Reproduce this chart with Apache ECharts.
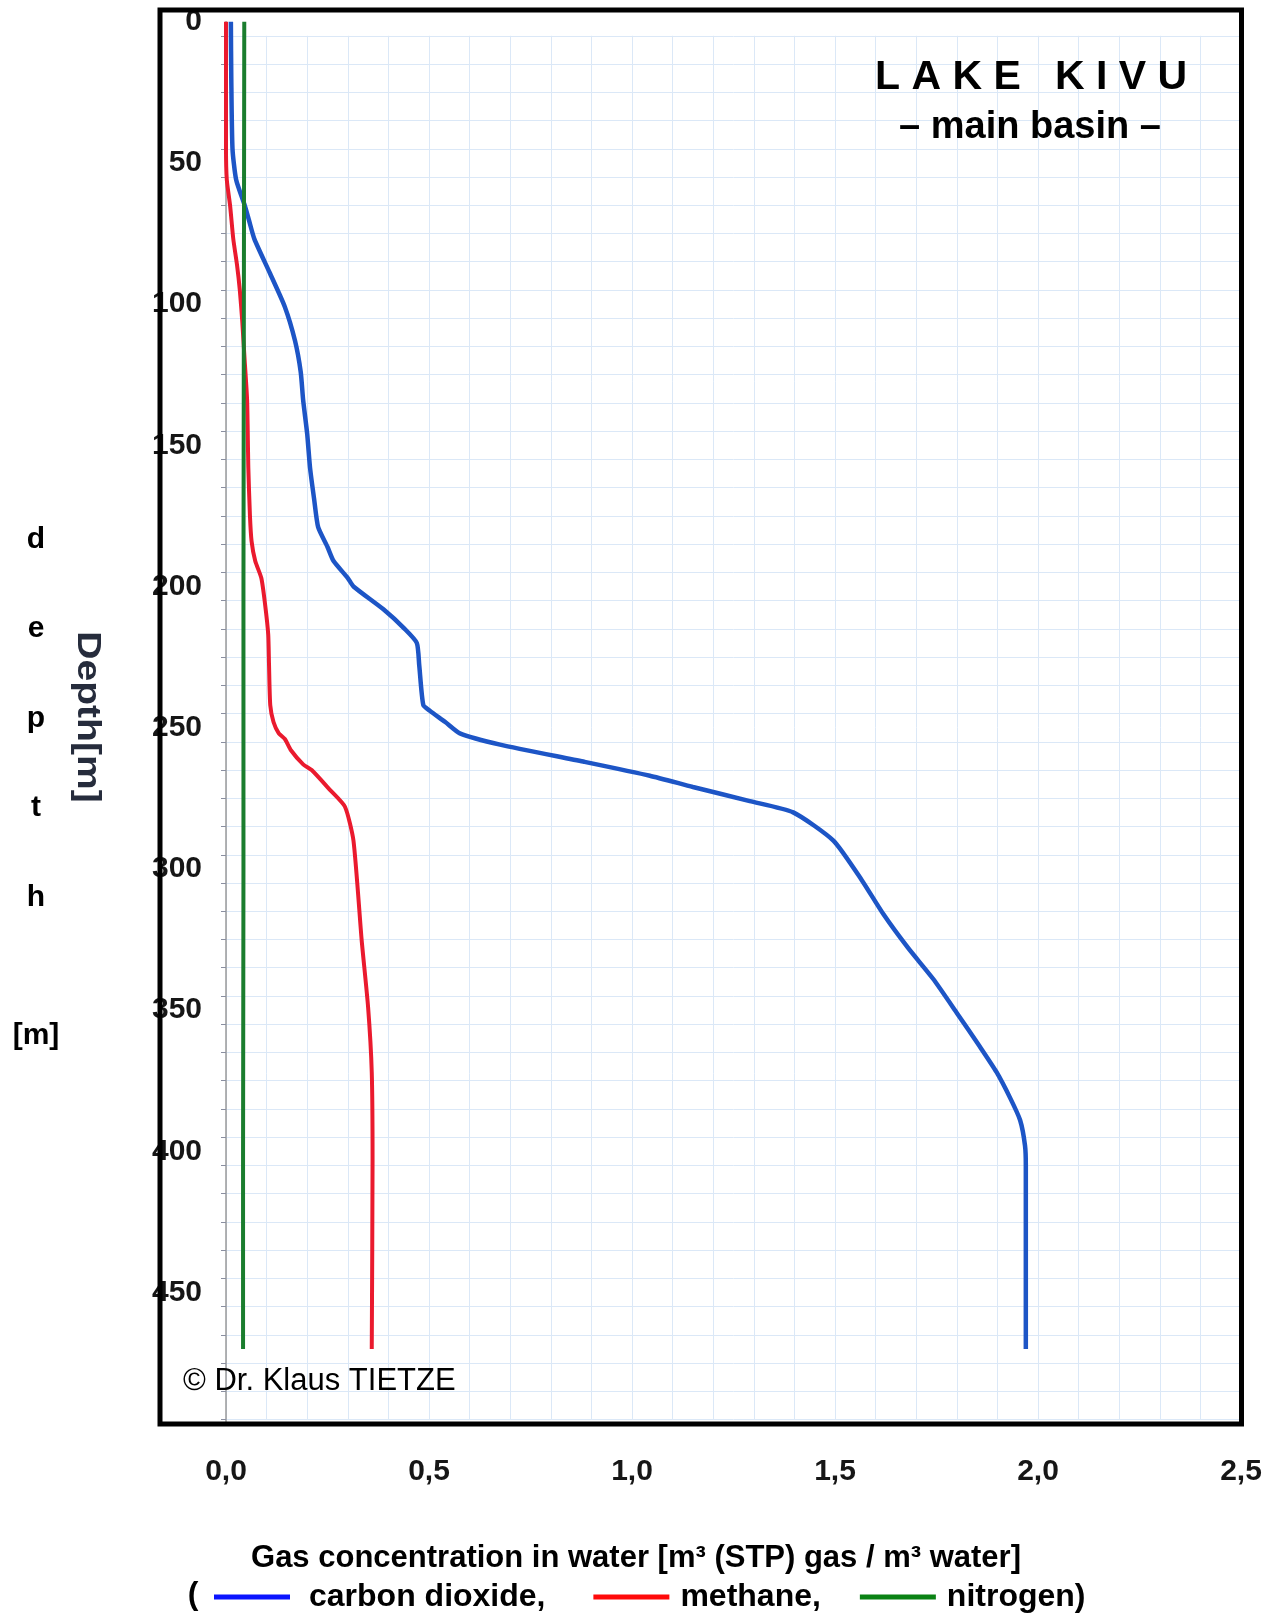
<!DOCTYPE html>
<html><head><meta charset="utf-8">
<script src="https://cdn.jsdelivr.net/npm/echarts@6/dist/echarts.min.js"></script>
<style>html,body{margin:0;padding:0;background:#fff}#c{width:1276px;height:1614px}</style>
</head><body><div id="c"></div>
<script>
// ---- data (depth in m, concentration in m3 STP gas / m3 water) ----
const depthTickValues = [0, 50, 100, 150, 200, 250, 300, 350, 400, 450];
const concTickLabels = ['0,0', '0,5', '1,0', '1,5', '2,0', '2,5'];

const co2Depth = [0, 20, 45, 56, 65, 70, 77, 89, 101, 113, 124, 134, 146, 158, 169, 179, 186, 191, 197, 200, 208, 215, 220, 228, 242, 244, 248, 252, 256, 262, 267, 271, 276, 280, 290, 304, 316, 328, 339, 351, 363, 372, 381, 389, 398, 405, 470];
const co2Conc  = [0.012, 0.013, 0.016, 0.025, 0.046, 0.056, 0.070, 0.108, 0.145, 0.170, 0.184, 0.190, 0.200, 0.207, 0.217, 0.227, 0.250, 0.265, 0.300, 0.314, 0.387, 0.440, 0.470, 0.476, 0.486, 0.502, 0.540, 0.576, 0.675, 0.880, 1.044, 1.150, 1.290, 1.397, 1.496, 1.566, 1.619, 1.680, 1.742, 1.800, 1.857, 1.898, 1.931, 1.956, 1.968, 1.970, 1.970];

const ch4Depth = [0, 20, 45, 56, 65, 77, 86, 95, 106, 120, 134, 158, 175, 184, 191, 197, 206, 217, 228, 242, 248, 252, 254, 258, 263, 265, 272, 278, 290, 325, 349, 372, 403, 470];
const ch4Conc  = [0.000, 0.000, 0.000, 0.002, 0.010, 0.018, 0.027, 0.034, 0.040, 0.046, 0.052, 0.055, 0.059, 0.063, 0.072, 0.087, 0.096, 0.104, 0.106, 0.109, 0.117, 0.130, 0.145, 0.160, 0.190, 0.211, 0.256, 0.293, 0.314, 0.334, 0.350, 0.359, 0.361, 0.359];

const n2Depth = [0, 100, 200, 300, 400, 470];
const n2Conc  = [0.045, 0.044, 0.043, 0.043, 0.042, 0.042];

const seriesNames = ['carbon dioxide', 'methane', 'nitrogen'];
const legendLabels = ['carbon dioxide, ', 'methane,', 'nitrogen)'];

const toPairs = (d, c) => d.map((v, i) => [c[i], v]);

const chart = echarts.init(document.getElementById('c'), null, {renderer: 'canvas'});
const FONT = 'Liberation Sans, Arial, sans-serif';
const gridColor = '#dbe8f7';

chart.setOption({
  backgroundColor: '#ffffff',
  animation: false,
  textStyle: {fontFamily: FONT},
  grid: [
    {left: 226, top: 21.7, width: 1015, height: 1403.5},
    {left: 226, top: 35.8, width: 1015, height: 1383.8}
  ],
  xAxis: [
    {gridIndex: 0, type: 'value', min: 0, max: 2.5, interval: 0.5,
     axisLine: {show: false}, axisTick: {show: false}, splitLine: {show: false},
     axisLabel: {margin: 32, fontSize: 30, fontWeight: 'bold', color: '#161616', fontFamily: FONT,
       formatter: v => { const i = Math.round(v / 0.5); return concTickLabels[i] || ''; }}},
    {gridIndex: 1, type: 'value', min: 0, max: 2.5, interval: 0.1,
     axisLine: {show: false}, axisTick: {show: false}, axisLabel: {show: false},
     splitLine: {show: true, lineStyle: {color: gridColor, width: 1}}}
  ],
  yAxis: [
    {gridIndex: 0, type: 'value', inverse: true, min: 0, max: 497, interval: 50,
     axisLine: {show: true, lineStyle: {color: '#9a9a9a', width: 1.5}},
     axisTick: {show: false}, splitLine: {show: false},
     axisLabel: {margin: 24, fontSize: 30, fontWeight: 'bold', color: '#161616', fontFamily: FONT,
       showMaxLabel: false,
       formatter: v => depthTickValues.indexOf(v) >= 0 ? String(v) : ''}},
    {gridIndex: 1, type: 'value', inverse: true, min: 0, max: 490, interval: 10,
     axisLine: {show: false}, axisLabel: {show: false},
     axisTick: {show: true, length: 5, lineStyle: {color: '#8a8fa0', width: 1}},
     splitLine: {show: true, lineStyle: {color: gridColor, width: 1}}}
  ],
  legend: {
    left: 209, top: 1576, icon: 'rect', itemWidth: 76, itemHeight: 5, itemGap: 39,
    textStyle: {fontSize: 32, fontWeight: 'bold', color: '#000', fontFamily: FONT},
    formatter: name => legendLabels[seriesNames.indexOf(name)],
    data: [
      {name: seriesNames[0], itemStyle: {color: '#0a14ff'}, textStyle: {padding: [0, 0, 0, 14]}},
      {name: seriesNames[1], itemStyle: {color: '#ff0a0a'}, textStyle: {padding: [0, 0, 0, 6]}},
      {name: seriesNames[2], itemStyle: {color: '#0a8214'}, textStyle: {padding: [0, 0, 0, 6]}}
    ]
  },
  series: [
    {name: seriesNames[1], type: 'line', xAxisIndex: 0, yAxisIndex: 0, data: toPairs(ch4Depth, ch4Conc),
     showSymbol: false, smooth: 0.2, z: 3,
     lineStyle: {color: '#ea1a2e', width: 4}, itemStyle: {color: '#ea1a2e'}},
    {name: seriesNames[0], type: 'line', xAxisIndex: 0, yAxisIndex: 0, data: toPairs(co2Depth, co2Conc),
     showSymbol: false, smooth: 0.2, z: 4,
     lineStyle: {color: '#1d55c6', width: 4.5}, itemStyle: {color: '#1d55c6'}},
    {name: seriesNames[2], type: 'line', xAxisIndex: 0, yAxisIndex: 0, data: toPairs(n2Depth, n2Conc),
     showSymbol: false, z: 5,
     lineStyle: {color: '#1a7d2e', width: 4}, itemStyle: {color: '#1a7d2e'}}
  ],
  graphic: [
    {type: 'rect', shape: {x: 160, y: 10, width: 1081.5, height: 1414}, z: 1,
     style: {fill: null, stroke: '#000', lineWidth: 5}},
    {type: 'text', x: 1031, y: 78, z: 10, style: {text: 'L A K E   K I V U', font: 'bold 41px ' + FONT, fill: '#000', textAlign: 'center', textVerticalAlign: 'middle'}},
    {type: 'text', x: 1030, y: 128, z: 10, style: {text: '– main basin –', font: 'bold 38px ' + FONT, fill: '#000', textAlign: 'center', textVerticalAlign: 'middle'}},
    {type: 'text', x: 183, y: 1381, z: 10, style: {text: '© Dr. Klaus TIETZE', font: '31px ' + FONT, fill: '#000', textAlign: 'left', textVerticalAlign: 'middle'}},
    {type: 'text', x: 636, y: 1558, z: 10, style: {text: 'Gas concentration in water [m³ (STP) gas / m³ water]', font: 'bold 31px ' + FONT, fill: '#000', textAlign: 'center', textVerticalAlign: 'middle'}},
    {type: 'text', x: 193, y: 1595, z: 10, style: {text: '(', font: 'bold 32px ' + FONT, fill: '#000', textAlign: 'center', textVerticalAlign: 'middle'}},
    {type: 'text', x: 36, y: 540, z: 10, style: {text: 'd', font: 'bold 30px ' + FONT, fill: '#000', textAlign: 'center', textVerticalAlign: 'middle'}},
    {type: 'text', x: 36, y: 629, z: 10, style: {text: 'e', font: 'bold 30px ' + FONT, fill: '#000', textAlign: 'center', textVerticalAlign: 'middle'}},
    {type: 'text', x: 36, y: 719, z: 10, style: {text: 'p', font: 'bold 30px ' + FONT, fill: '#000', textAlign: 'center', textVerticalAlign: 'middle'}},
    {type: 'text', x: 36, y: 808, z: 10, style: {text: 't', font: 'bold 30px ' + FONT, fill: '#000', textAlign: 'center', textVerticalAlign: 'middle'}},
    {type: 'text', x: 36, y: 898, z: 10, style: {text: 'h', font: 'bold 30px ' + FONT, fill: '#000', textAlign: 'center', textVerticalAlign: 'middle'}},
    {type: 'text', x: 36, y: 1036, z: 10, style: {text: '[m]', font: 'bold 30px ' + FONT, fill: '#000', textAlign: 'center', textVerticalAlign: 'middle'}},
    {type: 'text', x: 87, y: 717, rotation: -Math.PI / 2, scaleX: 1.15, z: 10, style: {text: 'Depth[m]', font: 'bold 34px ' + FONT, fill: '#262c3c', textAlign: 'center', textVerticalAlign: 'middle'}}
  ]
});
</script>
</body></html>
